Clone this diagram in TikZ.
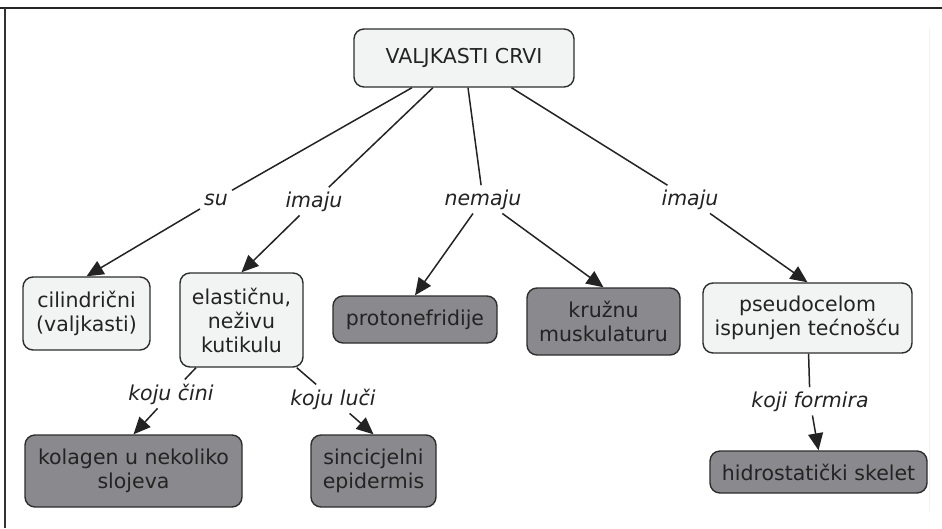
\documentclass[tikz,border=0pt]{standalone}
\usepackage{fontspec}
\setmainfont{DejaVu Sans}
\usetikzlibrary{arrows.meta}
\definecolor{boxlight}{RGB}{242,243,243}
\definecolor{boxdark}{RGB}{138,138,142}
\definecolor{ink}{RGB}{35,35,35}
\definecolor{rim}{RGB}{45,45,45}
\begin{document}
\begin{tikzpicture}[x=1pt,y=-1pt,
  font=\fontsize{20.5}{24}\selectfont, text=ink,
  concept/.style={draw=rim, line width=1.4pt, rounded corners=10pt,
    align=center, inner sep=1pt, fill=boxlight},
  darkbox/.style={concept, fill=boxdark},
  linkword/.style={font=\fontsize{20.5}{24}\selectfont\itshape, inner sep=4pt, anchor=base},
  link/.style={draw=ink, line width=1.5pt},
  tip/.style={link, -{Triangle[length=17pt,width=15pt]}}]
\useasboundingbox (0,0) rectangle (942,528);
% frame
\draw[line width=2pt, black!85] (0,8) -- (942,8);
\draw[line width=1.5pt, black!80] (5,8) -- (5,528);
\draw[line width=0.8pt, black!5] (929,28) -- (929,511);

% concepts
\node[concept, minimum width=220pt, minimum height=58pt] (root) at (464,58) {VALJKASTI CRVI};
\node[concept, minimum width=127pt, minimum height=73pt] (cil) at (86.5,313.5) {cilindrični\\(valjkasti)};
\node[concept, minimum width=123pt, minimum height=94pt] (ela) at (241.5,320) {elastičnu,\\neživu\\kutikulu};
\node[darkbox, minimum width=164pt, minimum height=47pt] (proto) at (415,319.5) {protonefridije};
\node[darkbox, minimum width=153pt, minimum height=67pt] (kruz) at (603.5,321.5) {kružnu\\muskulaturu};
\node[concept, minimum width=209pt, minimum height=70pt] (pseudo) at (807.5,318) {pseudocelom\\ispunjen tećnošću};
\node[darkbox, minimum width=217pt, minimum height=72pt] (kol) at (133.5,471) {kolagen u nekoliko\\slojeva};
\node[darkbox, minimum width=125pt, minimum height=72pt] (sinc) at (373.5,471) {sincicjelni\\epidermis};
\node[darkbox, minimum width=217pt, minimum height=42pt] (hidro) at (818.5,472) {hidrostatički skelet};

% linking words
\node[linkword] (su) at (216,205) {su};
\node[linkword] (imajuA) at (314,207) {imaju};
\node[linkword] (nemaju) at (483,205) {nemaju};
\node[linkword] (imajuB) at (690,205) {imaju};
\node[linkword] (cini) at (171,400) {koju čini};
\node[linkword] (luci) at (333,405) {koju luči};
\node[linkword] (formira) at (810,407) {koji formira};

% connectors
\draw[link] (root) -- (su);
\draw[tip] (su) -- (cil.north);
\draw[link] (root) -- (imajuA);
\draw[tip] (imajuA) -- (ela.north);
\draw[link] (root) -- (nemaju);
\draw[tip] (nemaju) -- (proto.north);
\draw[tip] (nemaju) -- (kruz.north);
\draw[link] (root) -- (imajuB);
\draw[tip] (imajuB) -- (pseudo.north);
\draw[link] (ela) -- (cini);
\draw[tip] (cini) -- (kol.north);
\draw[link] (ela) -- (luci);
\draw[tip] (luci) -- (sinc.north);
\draw[link] (pseudo) -- (formira);
\draw[tip] (formira) -- (hidro.north);
\end{tikzpicture}
\end{document}
